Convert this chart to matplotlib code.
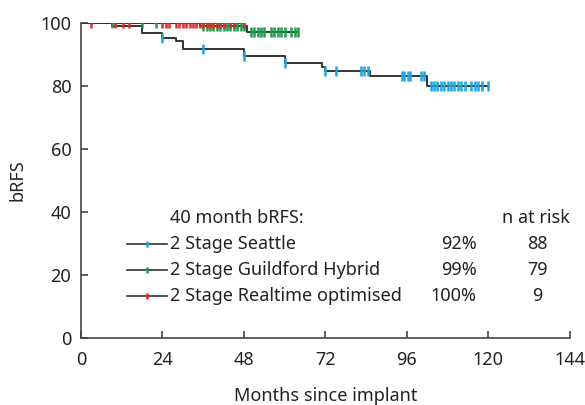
import numpy as np
import matplotlib.pyplot as plt

plt.rcParams['font.family'] = ['Noto Sans', 'DejaVu Sans']

# Kaplan-Meier step data (months, bRFS %)
seattle_t = [0, 9, 18, 24, 28, 30, 48, 60, 71, 72, 85, 102]
seattle_s = [100, 99, 96.8, 95, 94, 91.6, 89.3, 87.3, 86, 84.7, 83.1, 79.8]
seattle_end = 120
seattle_cens = [24, 36, 48, 60, 72, 75, 82.5, 83.5, 84.5, 94.7, 95.3, 96.2, 96.8,
                100.2, 101, 103, 104, 105, 106, 107, 108, 109, 110, 111, 112, 113,
                115, 116, 117, 118, 120]

guild_t = [0, 35, 49]
guild_s = [100, 98.8, 96.9]
guild_end = 64
guild_cens = [9, 18, 22, 36, 37, 38, 39, 40, 41, 42, 43, 44, 45, 46, 47, 48,
              50, 51, 52, 53, 54, 56, 57, 58, 59, 60, 62, 63, 64]

real_t = [0]
real_s = [100]
real_end = 48
real_cens = [3, 10, 12.5, 14, 24, 25, 26, 28, 29, 30, 31, 32, 33, 34, 35, 36,
             37, 38, 39, 40, 41, 42, 44, 45, 48]

names = ['2 Stage Seattle', '2 Stage Guildford Hybrid', '2 Stage Realtime optimised']
rfs40 = ['92%', '99%', '100%']
at_risk = ['88', '79', '9']
colors = ['#1aa7e0', '#1b9e4b', '#e8262b']

series = [(seattle_t, seattle_s, seattle_end, seattle_cens),
          (guild_t, guild_s, guild_end, guild_cens),
          (real_t, real_s, real_end, real_cens)]

fig = plt.figure(figsize=(5.85, 4.05), dpi=100)
ax = fig.add_axes([0.1385, 0.1654, 0.8355, 0.779])

line_col = '#333333'
for (t, s, end, cens), c in zip(series, colors):
    tt = np.append(t, end)
    ss = np.append(s, s[-1])
    ax.step(tt, ss, where='post', color=line_col, lw=1.4, zorder=2)
    idx = np.searchsorted(t, cens, side='right') - 1
    ax.plot(cens, np.array(s)[idx], ls='none', marker='|', ms=7.5, mew=1.8,
            color=c, zorder=3)

ax.set_xlim(0, 144)
ax.set_ylim(0, 100)
ax.set_xticks(np.arange(0, 145, 24))
ax.set_yticks(np.arange(0, 101, 20))
for sp in ['top', 'right']:
    ax.spines[sp].set_visible(False)
for sp in ['left', 'bottom']:
    ax.spines[sp].set_color('#444444')
    ax.spines[sp].set_linewidth(1.2)
fs = 13
ax.tick_params(direction='in', length=5, width=1.2, color='#444444',
               labelsize=fs, labelcolor='#222222', pad=7)
ax.tick_params(axis='x', pad=9)
ax.set_xlabel('Months since implant', fontsize=fs, color='#222222', labelpad=13)
ax.set_ylabel('bRFS', fontsize=fs, color='#222222', labelpad=10)

# legend built as a table
ax.text(26.2, 38, '40 month bRFS:', fontsize=fs, color='#222222', va='center')
ax.text(124, 38, 'n at risk', fontsize=fs, color='#222222', va='center')
for i, (nm, pct, n, c) in enumerate(zip(names, rfs40, at_risk, colors)):
    y = 29.8 - i * 8.2
    ax.plot([13.5, 25.3], [y, y], color=line_col, lw=1.2)
    ax.plot([19.5], [y], ls='none', marker='|', ms=5, mew=1.8, color=c)
    ax.text(26.2, y, nm, fontsize=fs, color='#222222', va='center')
    ax.text(116.5, y, pct, fontsize=fs, color='#222222', va='center', ha='right')
    ax.text(134.5, y, n, fontsize=fs, color='#222222', va='center', ha='center')

fig.savefig('out.png', dpi=100)
